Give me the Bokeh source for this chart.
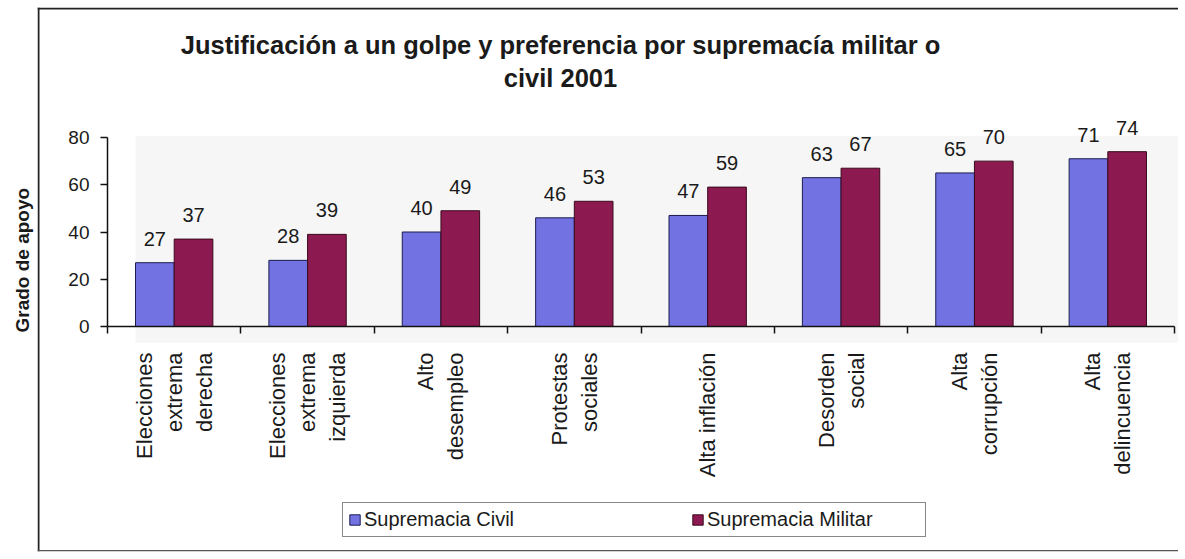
import math
from bokeh.plotting import figure
from bokeh.models import (Range1d, FixedTicker, LinearAxis, ColumnDataSource, Label,
                          LabelSet, Legend, LegendItem, Title, BoxAnnotation)
from bokeh.core.properties import value
from bokeh.embed import file_html
from bokeh.resources import INLINE

# ---- data ----
categories = ["Elecciones\nextrema\nderecha", "Elecciones\nextrema\nizquierda",
              "Alto\ndesempleo", "Protestas\nsociales", "Alta inflación",
              "Desorden\nsocial", "Alta\ncorrupción", "Alta\ndelincuencia"]
civil = [27, 28, 40, 46, 47, 63, 65, 71]
militar = [37, 39, 49, 53, 59, 67, 70, 74]
series_names = ["Supremacia Civil", "Supremacia Militar"]
yticks = [0, 20, 40, 60, 80]
title_text = "Justificación a un golpe y preferencia por supremacía militar o\ncivil 2001"
ylabel_text = "Grado de apoyo"

FONT = "Liberation Sans"
BLUE = "#7272E2"
RED = "#8C1A50"
TXT = "#1a1a1a"

n = len(categories)
centers = [i + 0.5 for i in range(n)]
bounds = list(range(n + 1))
bw = 0.29

# ---- layout (canvas pixels) ----
W, H = 1178, 553
FL, FT, FR, FB = 37, 7, 1178, 551          # frame edges in canvas px
X0, XN = 107.0, 1174.0                      # canvas px of x=0 and x=n
Y0, Y80 = 326.0, 137.0                      # canvas px of y=0 and y=80
xs = (XN - X0) / n
ys = (Y0 - Y80) / 80.0
x_start, x_end = (FL - X0) / xs, (FR - X0) / xs
y_end, y_start = (Y0 - FT) / ys, (Y0 - FB) / ys

src = ColumnDataSource(dict(
    xc=[c - bw / 2 for c in centers],
    xm=[c + bw / 2 for c in centers],
    civil=civil, militar=militar,
    civil_t=[str(v) for v in civil],
    militar_t=[str(v) for v in militar],
))

p = figure(width=W, height=H, x_range=Range1d(x_start, x_end), y_range=Range1d(y_start, y_end),
           output_backend="svg", toolbar_location=None,
           x_axis_type=None, y_axis_type=None,
           min_border_left=FL, min_border_right=W - FR, min_border_top=FT, min_border_bottom=H - FB)
p.xgrid.grid_line_color = None
p.ygrid.grid_line_color = None
p.outline_line_color = None
p.background_fill_color = "white"
p.border_fill_color = "white"

# light plot wall behind the bars (as in the scanned chart)
p.add_layout(BoxAnnotation(left=centers[0] - bw, right=x_end, bottom=-16 / ys, top=80 + 1.5 / ys,
                           fill_color="#f6f6f6", fill_alpha=1, line_color=None, level="underlay"))

# scanned frame border: thin filled strips (left, top, bottom); no right edge
def strip(left, right, bottom, top, color):
    p.add_layout(BoxAnnotation(left=left, right=right, bottom=bottom, top=top,
                               fill_color=color, fill_alpha=1, line_color=None))

strip(x_start, x_start + 2 / xs, y_start, y_end, "#222")
strip(x_start, x_end, y_end - 2 / ys, y_end, "#222")
strip(x_start, x_end, y_start, y_start + 1.5 / ys, "#555")

r1 = p.vbar(x="xc", top="civil", width=bw, bottom=0, source=src,
            fill_color=BLUE, line_color="#1c1c50", line_width=1)
r2 = p.vbar(x="xm", top="militar", width=bw, bottom=0, source=src,
            fill_color=RED, line_color="#3a0a1c", line_width=1)

for col, txt in (("xc", "civil"), ("xm", "militar")):
    p.add_layout(LabelSet(x=col, y=txt, text=txt + "_t", source=src, y_offset=17,
                          text_align="center", text_baseline="alphabetic",
                          text_font=value(FONT), text_font_size="20px", text_color=TXT))

yaxis = LinearAxis(ticker=FixedTicker(ticks=yticks), bounds=(0, 80), fixed_location=0,
                   major_tick_out=7, major_tick_in=0, minor_tick_out=0, minor_tick_in=0,
                   major_label_standoff=11, major_label_text_font=FONT,
                   major_label_text_font_size="19px", major_label_text_color=TXT,
                   axis_line_width=1.5, axis_line_color="#111", major_tick_line_width=1.5,
                   major_tick_line_color="#111")
p.add_layout(yaxis, "left")

xaxis = LinearAxis(ticker=FixedTicker(ticks=centers, minor_ticks=bounds), bounds=(0, n),
                   fixed_location=0,
                   major_label_overrides={c: lab for c, lab in zip(centers, categories)},
                   major_label_orientation=math.pi / 2,
                   major_tick_out=0, major_tick_in=0, minor_tick_out=7, minor_tick_in=0,
                   major_label_standoff=19, major_label_text_font=FONT,
                   major_label_text_font_size="22px", major_label_text_color=TXT,
                   axis_line_width=1.5, axis_line_color="#111", minor_tick_line_width=1.5,
                   minor_tick_line_color="#111")
p.add_layout(xaxis, "below")

# title inside the (large) frame, screen units from frame bottom-left
p.add_layout(Label(x=561 - 1 - FL, y=FB - (62 - 1), x_units="screen", y_units="screen",
                   text=title_text, text_align="center", text_baseline="middle",
                   text_font=FONT, text_font_size="25.5px", text_font_style="bold",
                   text_color=TXT))

# y label outside the border, in the left panel
p.add_layout(Title(text=ylabel_text, align="left", offset=FB - (333 - 1),
                   text_font=FONT, text_font_size="19px", text_font_style="bold",
                   text_color=TXT, standoff=10), "left")

legend = Legend(items=[LegendItem(label=series_names[0], renderers=[r1]),
                       LegendItem(label=series_names[1], renderers=[r2])],
                orientation="horizontal", location=(343 - 1 - FL, FB - (538 - 1)),
                glyph_width=13, glyph_height=13, label_standoff=3, label_width=213,
                spacing=114, padding=5, margin=0,
                border_line_color="#111", border_line_width=1.5,
                label_text_font=FONT, label_text_font_size="20px",
                label_text_color=TXT, background_fill_color="white",
                background_fill_alpha=1)
p.add_layout(legend)

open("out.html", "w").write(file_html(p, INLINE))
